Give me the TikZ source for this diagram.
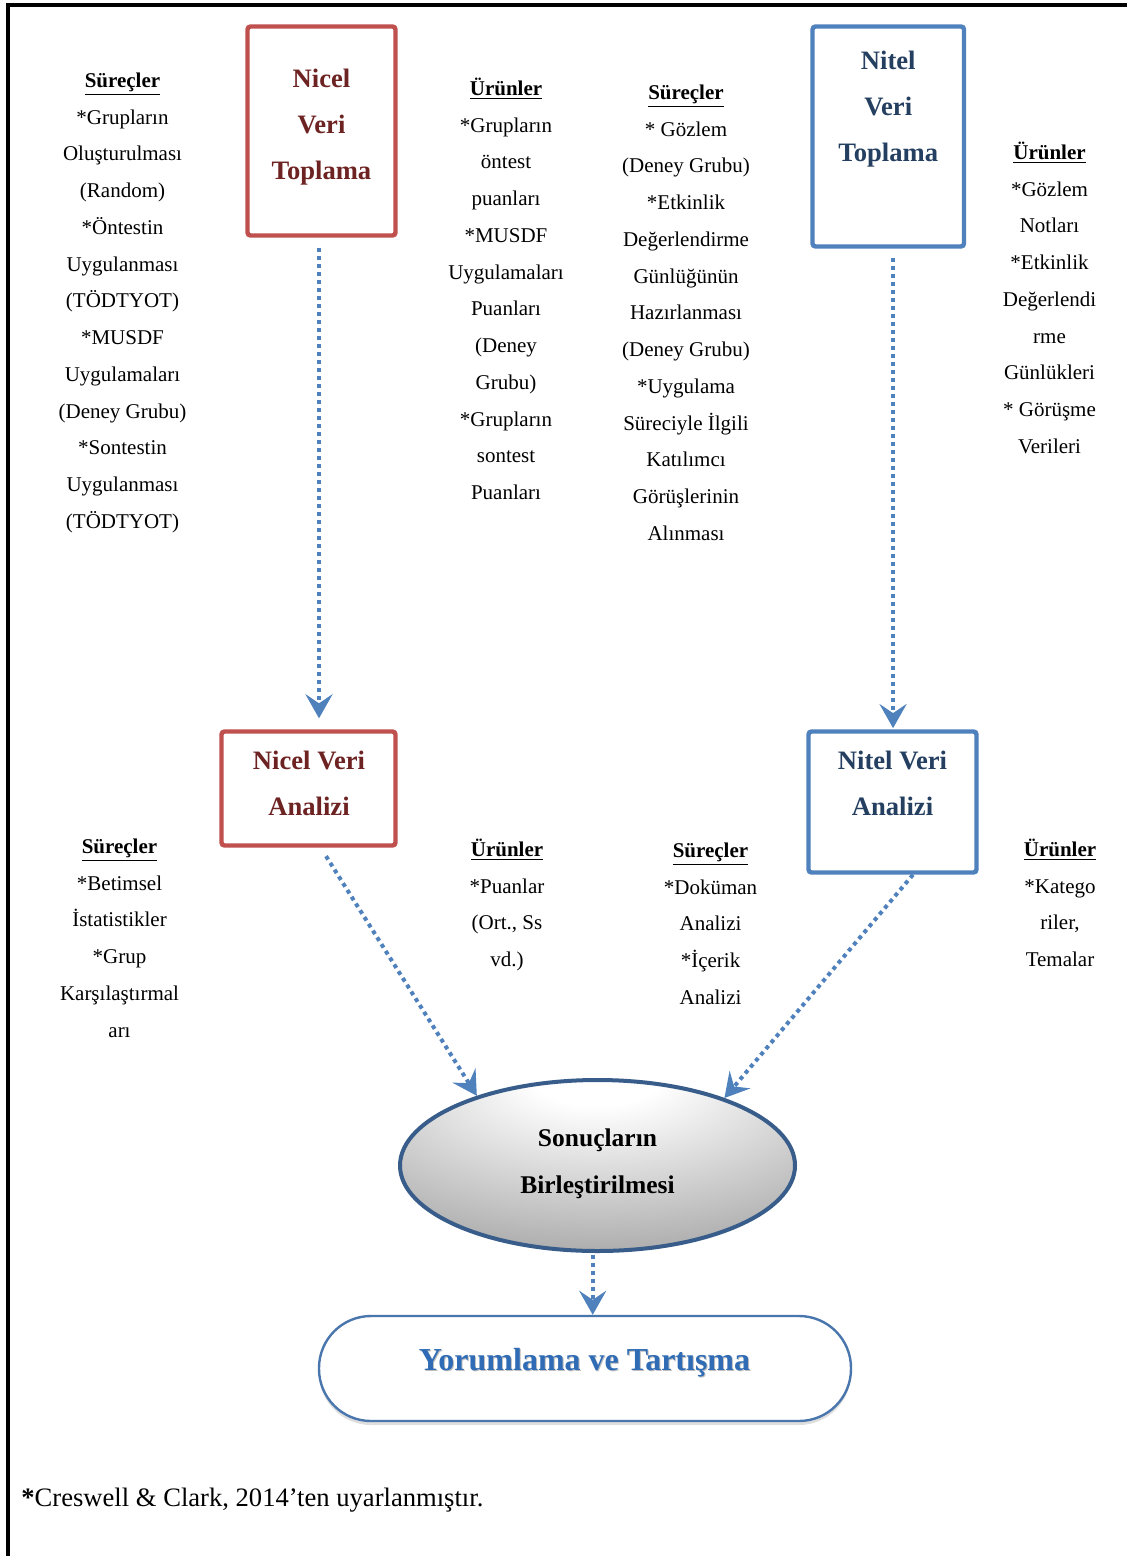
\documentclass[tikz,border=0pt]{standalone}
\usepackage{fontspec}
\setmainfont{Liberation Serif}
\usetikzlibrary{arrows.meta,shapes.geometric,shadows,calc}
\definecolor{nred}{HTML}{C0504D}
\definecolor{nredtxt}{RGB}{110,35,35}
\definecolor{nblue}{HTML}{4F81BD}
\definecolor{nbluetxt}{HTML}{243F60}
\definecolor{ellblue}{HTML}{385D8A}
\definecolor{yorborder}{HTML}{4A76AE}
\definecolor{yortxt}{HTML}{2F6CB5}
\pgfdeclareradialshading{ellshade}{\pgfpoint{0bp}{28bp}}{color(0bp)=(white); color(8bp)=(white); color(54bp)=(black!45); color(90bp)=(black!45)}
\begin{document}
\begin{tikzpicture}[x=0.5pt,y=-0.5pt,
  colbody/.style={anchor=north, align=center, inner sep=0pt, font=\fontsize{10.5}{18.375}\selectfont},
  boxred/.style={draw=nred, line width=2.2pt, rounded corners=1.5pt, inner sep=0pt},
  boxblue/.style={draw=nblue, line width=2.2pt, rounded corners=1.5pt, inner sep=0pt},
  headred/.style={anchor=north, align=center, inner sep=0pt, text=nredtxt, font=\fontsize{13.3}{23}\selectfont\bfseries},
  headblue/.style={anchor=north, align=center, inner sep=0pt, text=nbluetxt, font=\fontsize{13.3}{23}\selectfont\bfseries},
  dotarrow/.style={draw=nblue, line width=2pt, dash pattern=on 2pt off 2pt, -{Stealth[length=12pt,width=13.5pt,inset=4.5pt]}},
  frame/.style={line width=2.2pt, draw=black}
]
\useasboundingbox (0,0) rectangle (1127,1556);
\fill[white] (0,0) rectangle (1127,1556);
\draw[frame] (8,1556) -- (8,5) -- (1127,5);

% boxes
\node[boxred, minimum width=74pt, minimum height=104.5pt] (nvt) at (321.5,131) {};
\node[boxblue, minimum width=75.75pt, minimum height=110pt] (ntt) at (888.25,136.5) {};
\node[boxred, minimum width=87pt, minimum height=57pt] (nva) at (308.5,788.5) {};
\node[boxblue, minimum width=84pt, minimum height=70.5pt] (nta) at (892.5,802) {};
\node[ellipse, draw=ellblue, line width=2pt, shading=ellshade, minimum width=197.5pt, minimum height=85.5pt, inner sep=0pt] (ell) at (597.5,1165.5) {};
\node[draw=yorborder, line width=1.2pt, rounded corners=26pt, minimum width=266pt, minimum height=52.5pt, fill=white, drop shadow={fill=black!35, opacity=0.35, shadow xshift=0pt, shadow yshift=-2pt}] (yor) at (585,1368.5) {};

% box headings
\node[headred] (nvtt) at (321.5,54.8) {\strut Nicel\\Veri\\Toplama};
\node[headblue] (nttt) at (888.25,36.8) {\strut Nitel\\Veri\\Toplama};
\node[headred] (nvat) at (309,736.8) {\strut Nicel Veri\\Analizi};
\node[headblue] (ntat) at (892.5,736.8) {\strut Nitel Veri\\Analizi};
\node[anchor=north, align=center, inner sep=0pt, font=\fontsize{12.75}{23.5}\selectfont\bfseries] (ellt) at (597.5,1113.1) {\strut Sonuçların\\Birleştirilmesi};
\node[anchor=base, inner sep=0pt, text=black!25, font=\fontsize{16}{20}\selectfont\bfseries] (yorsh) at (585.5,1371) {Yorumlama ve Tartışma};
\node[anchor=base, inner sep=0pt, text=yortxt, font=\fontsize{16}{20}\selectfont\bfseries] (yort) at (584.5,1370) {Yorumlama ve Tartışma};

% columns
\node[colbody] (c1) at (122.5,61.3) {\strut\textbf{\underline{Süreçler}}\\*Grupların\\Oluşturulması\\(Random)\\*Öntestin\\Uygulanması\\(TÖDTYOT)\\*MUSDF\\Uygulamaları\\(Deney Grubu)\\*Sontestin\\Uygulanması\\(TÖDTYOT)};
\node[colbody] (c2) at (506,69.3) {\strut\textbf{\underline{Ürünler}}\\*Grupların\\öntest\\puanları\\*MUSDF\\Uygulamaları\\Puanları\\(Deney\\Grubu)\\*Grupların\\sontest\\Puanları};
\node[colbody] (c3) at (686,73.3) {\strut\textbf{\underline{Süreçler}}\\* Gözlem\\(Deney Grubu)\\*Etkinlik\\Değerlendirme\\Günlüğünün\\Hazırlanması\\(Deney Grubu)\\*Uygulama\\Süreciyle İlgili\\Katılımcı\\Görüşlerinin\\Alınması};
\node[colbody] (c4) at (1049.5,133.3) {\strut\textbf{\underline{Ürünler}}\\*Gözlem\\Notları\\*Etkinlik\\Değerlendi\\rme\\Günlükleri\\* Görüşme\\Verileri};
\node[colbody] (c5) at (119.5,827.3) {\strut\textbf{\underline{Süreçler}}\\*Betimsel\\İstatistikler\\*Grup\\Karşılaştırmal\\arı};
\node[colbody] (c6) at (507,830.3) {\strut\textbf{\underline{Ürünler}}\\*Puanlar\\(Ort., Ss\\vd.)};
\node[colbody] (c7) at (710.5,831.3) {\strut\textbf{\underline{Süreçler}}\\*Doküman\\Analizi\\*İçerik\\Analizi};
\node[colbody] (c8) at (1060,830.3) {\strut\textbf{\underline{Ürünler}}\\*Katego\\riler,\\Temalar};

% footer
\node[anchor=base west, inner sep=0pt, font=\fontsize{13.3}{16}\selectfont] (foot) at (21,1506) {\textbf{*}Creswell \& Clark, 2014’ten uyarlanmıştır.};

% arrows
\draw[dotarrow, shorten <=5pt, shorten >=5.5pt] ([xshift=-1.25pt]nvt.south) -- ([xshift=-1.25pt]nvt.south |- nva.north);
\draw[dotarrow, shorten <=4.6pt, shorten >=0.6pt] ([xshift=2.4pt]ntt.south) -- ([xshift=2.4pt]ntt.south |- nta.north);
\draw[dotarrow, shorten <=5pt] ([xshift=6.1pt]nva.south) -- (ell.150);
\draw[dotarrow] ([xshift=10.25pt]nta.south) -- (ell.28.6);
\draw[dotarrow, shorten <=1pt] ([xshift=-2.4pt]ell.south) -- ([xshift=-2.4pt]ell.south |- yor.north);
\end{tikzpicture}
\end{document}
